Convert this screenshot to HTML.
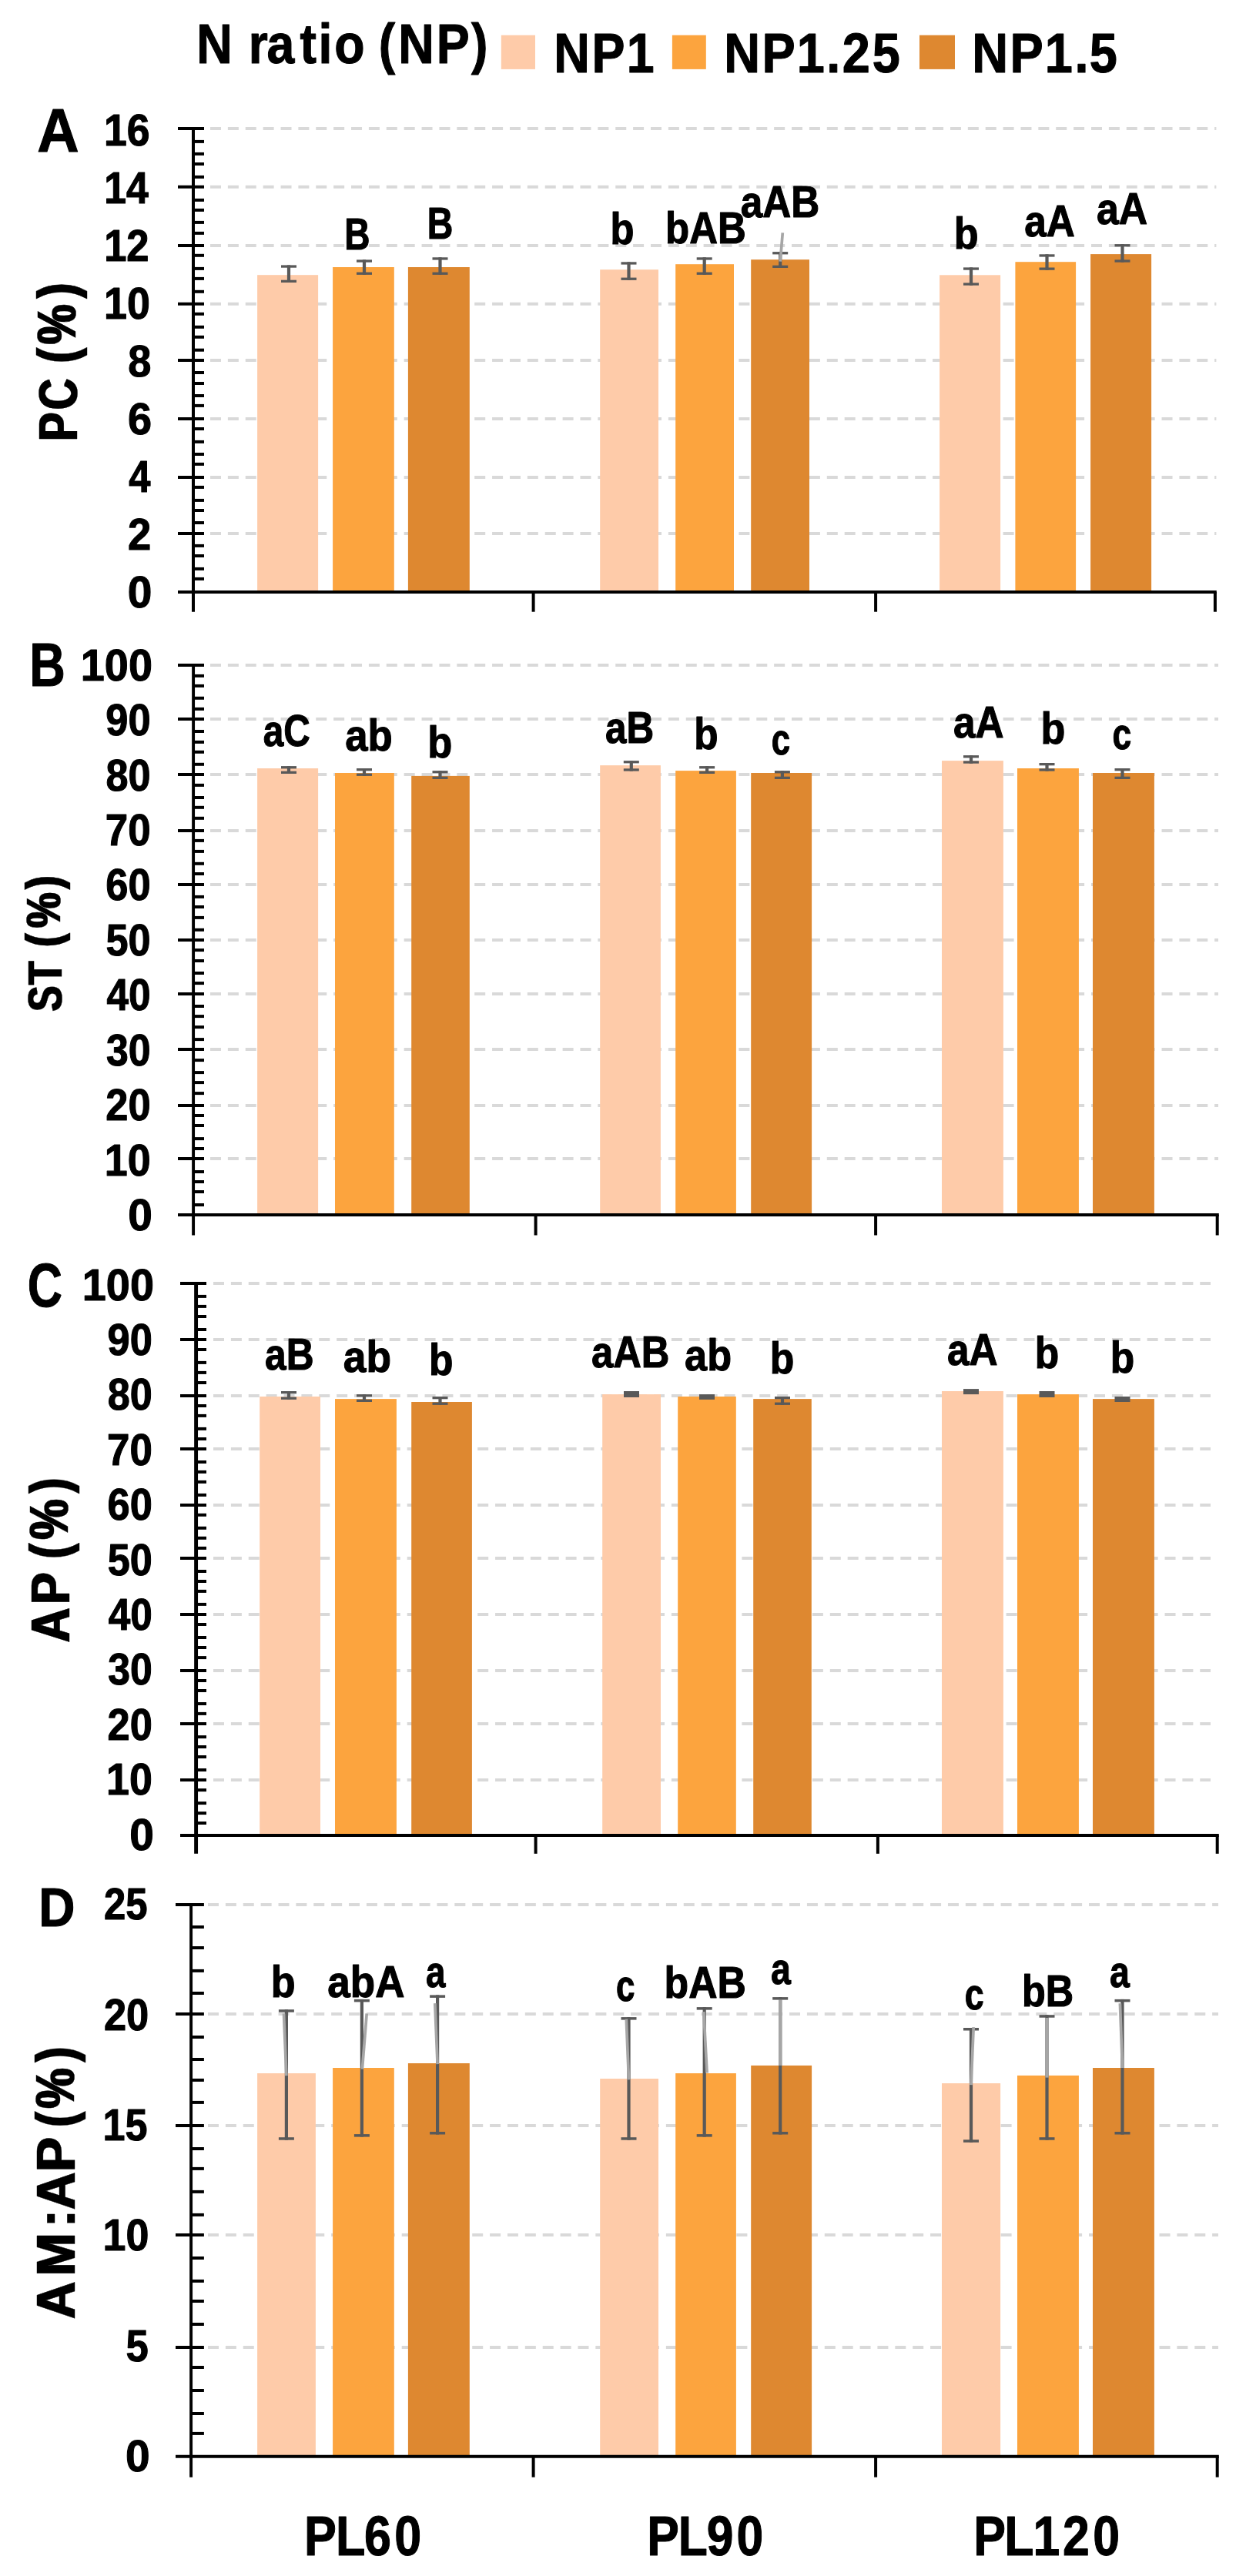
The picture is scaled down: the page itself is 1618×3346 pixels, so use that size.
<!DOCTYPE html>
<html lang="en">
<head>
<meta charset="utf-8">
<title>Figure: PC, ST, AP and AM:AP by N ratio (NP) and planting level</title>
<style>
html,body{margin:0;padding:0;background:#fff;}
body{width:1618px;height:3346px;overflow:hidden;}
svg{display:block;}
#ytitles text{stroke-width:0.4px;}
svg text{font-family:'Liberation Sans', Arial, Helvetica, sans-serif;font-weight:700;fill:#000;stroke:#000;stroke-width:1.1px;stroke-linejoin:round;}
</style>
</head>
<body>
<svg width="1618" height="3346" viewBox="0 0 1618 3346">
<rect x="0" y="0" width="1618" height="3346" fill="#ffffff"/>
<g id="shapes">
<rect x="650.80" y="45.70" width="44.20" height="44.20" fill="#FECBA9"/>
<rect x="872.90" y="45.70" width="43.90" height="44.20" fill="#FCA43E"/>
<rect x="1194.00" y="45.70" width="46.00" height="44.20" fill="#DE8830"/>
<line x1="273.00" y1="166.90" x2="1579.40" y2="166.90" stroke="#D9D9D9" stroke-width="4" stroke-dasharray="14 8.88"/>
<line x1="273.00" y1="242.80" x2="1579.40" y2="242.80" stroke="#D9D9D9" stroke-width="4" stroke-dasharray="14 8.88"/>
<line x1="273.00" y1="318.90" x2="1579.40" y2="318.90" stroke="#D9D9D9" stroke-width="4" stroke-dasharray="14 8.88"/>
<line x1="273.00" y1="394.80" x2="1579.40" y2="394.80" stroke="#D9D9D9" stroke-width="4" stroke-dasharray="14 8.88"/>
<line x1="273.00" y1="467.90" x2="1579.40" y2="467.90" stroke="#D9D9D9" stroke-width="4" stroke-dasharray="14 8.88"/>
<line x1="273.00" y1="543.90" x2="1579.40" y2="543.90" stroke="#D9D9D9" stroke-width="4" stroke-dasharray="14 8.88"/>
<line x1="273.00" y1="620.00" x2="1579.40" y2="620.00" stroke="#D9D9D9" stroke-width="4" stroke-dasharray="14 8.88"/>
<line x1="273.00" y1="692.90" x2="1579.40" y2="692.90" stroke="#D9D9D9" stroke-width="4" stroke-dasharray="14 8.88"/>
<rect x="334.10" y="357.20" width="79.00" height="411.70" fill="#FECBA9"/>
<rect x="432.10" y="347.00" width="79.70" height="421.90" fill="#FCA43E"/>
<rect x="529.90" y="347.00" width="79.90" height="421.90" fill="#DE8830"/>
<rect x="779.20" y="350.20" width="75.80" height="418.70" fill="#FECBA9"/>
<rect x="877.20" y="343.20" width="75.80" height="425.70" fill="#FCA43E"/>
<rect x="975.20" y="337.20" width="75.80" height="431.70" fill="#DE8830"/>
<rect x="1220.10" y="357.30" width="79.00" height="411.60" fill="#FECBA9"/>
<rect x="1318.40" y="340.20" width="78.70" height="428.70" fill="#FCA43E"/>
<rect x="1416.10" y="330.10" width="79.00" height="438.80" fill="#DE8830"/>
<rect x="372.90" y="344.40" width="4.20" height="22.60" fill="#595959"/>
<rect x="365.00" y="344.40" width="20.00" height="3.30" fill="#595959"/>
<rect x="365.00" y="363.70" width="20.00" height="3.30" fill="#595959"/>
<rect x="470.90" y="337.40" width="4.20" height="19.50" fill="#595959"/>
<rect x="463.00" y="337.40" width="20.00" height="3.30" fill="#595959"/>
<rect x="463.00" y="353.60" width="20.00" height="3.30" fill="#595959"/>
<rect x="569.40" y="334.30" width="4.20" height="22.60" fill="#595959"/>
<rect x="561.50" y="334.30" width="20.00" height="3.30" fill="#595959"/>
<rect x="561.50" y="353.60" width="20.00" height="3.30" fill="#595959"/>
<rect x="814.40" y="340.30" width="4.20" height="23.60" fill="#595959"/>
<rect x="806.50" y="340.30" width="20.00" height="3.30" fill="#595959"/>
<rect x="806.50" y="360.60" width="20.00" height="3.30" fill="#595959"/>
<rect x="912.60" y="334.30" width="4.20" height="22.60" fill="#595959"/>
<rect x="904.70" y="334.30" width="20.00" height="3.30" fill="#595959"/>
<rect x="904.70" y="353.60" width="20.00" height="3.30" fill="#595959"/>
<rect x="1011.10" y="327.10" width="4.20" height="20.90" fill="#595959"/>
<rect x="1003.20" y="327.10" width="20.00" height="3.30" fill="#595959"/>
<rect x="1003.20" y="344.70" width="20.00" height="3.30" fill="#595959"/>
<rect x="1258.90" y="347.40" width="4.20" height="23.30" fill="#595959"/>
<rect x="1251.00" y="347.40" width="20.00" height="3.30" fill="#595959"/>
<rect x="1251.00" y="367.40" width="20.00" height="3.30" fill="#595959"/>
<rect x="1357.40" y="330.30" width="4.20" height="20.50" fill="#595959"/>
<rect x="1349.50" y="330.30" width="20.00" height="3.30" fill="#595959"/>
<rect x="1349.50" y="347.50" width="20.00" height="3.30" fill="#595959"/>
<rect x="1455.40" y="317.10" width="4.20" height="23.60" fill="#595959"/>
<rect x="1447.50" y="317.10" width="20.00" height="3.30" fill="#595959"/>
<rect x="1447.50" y="337.40" width="20.00" height="3.30" fill="#595959"/>
<line x1="251.00" y1="164.90" x2="251.00" y2="794.70" stroke="#000" stroke-width="4.0" />
<line x1="231.00" y1="768.90" x2="1579.80" y2="768.90" stroke="#000" stroke-width="4" />
<line x1="231.00" y1="166.90" x2="265.00" y2="166.90" stroke="#000" stroke-width="4" />
<line x1="231.00" y1="242.80" x2="265.00" y2="242.80" stroke="#000" stroke-width="4" />
<line x1="231.00" y1="318.90" x2="265.00" y2="318.90" stroke="#000" stroke-width="4" />
<line x1="231.00" y1="394.80" x2="265.00" y2="394.80" stroke="#000" stroke-width="4" />
<line x1="231.00" y1="467.90" x2="265.00" y2="467.90" stroke="#000" stroke-width="4" />
<line x1="231.00" y1="543.90" x2="265.00" y2="543.90" stroke="#000" stroke-width="4" />
<line x1="231.00" y1="620.00" x2="265.00" y2="620.00" stroke="#000" stroke-width="4" />
<line x1="231.00" y1="692.90" x2="265.00" y2="692.90" stroke="#000" stroke-width="4" />
<line x1="251.00" y1="183.90" x2="265.00" y2="183.90" stroke="#000" stroke-width="4" />
<line x1="251.00" y1="199.90" x2="265.00" y2="199.90" stroke="#000" stroke-width="4" />
<line x1="251.00" y1="213.00" x2="265.00" y2="213.00" stroke="#000" stroke-width="4" />
<line x1="251.00" y1="229.90" x2="265.00" y2="229.90" stroke="#000" stroke-width="4" />
<line x1="251.00" y1="259.90" x2="265.00" y2="259.90" stroke="#000" stroke-width="4" />
<line x1="251.00" y1="272.90" x2="265.00" y2="272.90" stroke="#000" stroke-width="4" />
<line x1="251.00" y1="288.90" x2="265.00" y2="288.90" stroke="#000" stroke-width="4" />
<line x1="251.00" y1="302.90" x2="265.00" y2="302.90" stroke="#000" stroke-width="4" />
<line x1="251.00" y1="331.80" x2="265.00" y2="331.80" stroke="#000" stroke-width="4" />
<line x1="251.00" y1="348.90" x2="265.00" y2="348.90" stroke="#000" stroke-width="4" />
<line x1="251.00" y1="361.90" x2="265.00" y2="361.90" stroke="#000" stroke-width="4" />
<line x1="251.00" y1="378.80" x2="265.00" y2="378.80" stroke="#000" stroke-width="4" />
<line x1="251.00" y1="407.80" x2="265.00" y2="407.80" stroke="#000" stroke-width="4" />
<line x1="251.00" y1="424.80" x2="265.00" y2="424.80" stroke="#000" stroke-width="4" />
<line x1="251.00" y1="437.80" x2="265.00" y2="437.80" stroke="#000" stroke-width="4" />
<line x1="251.00" y1="454.70" x2="265.00" y2="454.70" stroke="#000" stroke-width="4" />
<line x1="251.00" y1="484.00" x2="265.00" y2="484.00" stroke="#000" stroke-width="4" />
<line x1="251.00" y1="498.00" x2="265.00" y2="498.00" stroke="#000" stroke-width="4" />
<line x1="251.00" y1="514.00" x2="265.00" y2="514.00" stroke="#000" stroke-width="4" />
<line x1="251.00" y1="526.90" x2="265.00" y2="526.90" stroke="#000" stroke-width="4" />
<line x1="251.00" y1="557.00" x2="265.00" y2="557.00" stroke="#000" stroke-width="4" />
<line x1="251.00" y1="573.90" x2="265.00" y2="573.90" stroke="#000" stroke-width="4" />
<line x1="251.00" y1="590.00" x2="265.00" y2="590.00" stroke="#000" stroke-width="4" />
<line x1="251.00" y1="602.90" x2="265.00" y2="602.90" stroke="#000" stroke-width="4" />
<line x1="251.00" y1="632.90" x2="265.00" y2="632.90" stroke="#000" stroke-width="4" />
<line x1="251.00" y1="649.90" x2="265.00" y2="649.90" stroke="#000" stroke-width="4" />
<line x1="251.00" y1="663.00" x2="265.00" y2="663.00" stroke="#000" stroke-width="4" />
<line x1="251.00" y1="679.00" x2="265.00" y2="679.00" stroke="#000" stroke-width="4" />
<line x1="251.00" y1="708.90" x2="265.00" y2="708.90" stroke="#000" stroke-width="4" />
<line x1="251.00" y1="722.00" x2="265.00" y2="722.00" stroke="#000" stroke-width="4" />
<line x1="251.00" y1="738.90" x2="265.00" y2="738.90" stroke="#000" stroke-width="4" />
<line x1="251.00" y1="751.90" x2="265.00" y2="751.90" stroke="#000" stroke-width="4" />
<line x1="692.60" y1="768.90" x2="692.60" y2="794.70" stroke="#000" stroke-width="4" />
<line x1="1137.10" y1="768.90" x2="1137.10" y2="794.70" stroke="#000" stroke-width="4" />
<line x1="1577.90" y1="768.90" x2="1577.90" y2="794.70" stroke="#000" stroke-width="4" />
<line x1="1016.30" y1="302.30" x2="1013.20" y2="339.60" stroke="#A6A6A6" stroke-width="3.7" />
<line x1="273.00" y1="864.00" x2="1582.00" y2="864.00" stroke="#D9D9D9" stroke-width="4" stroke-dasharray="14 8.88"/>
<line x1="273.00" y1="934.10" x2="1582.00" y2="934.10" stroke="#D9D9D9" stroke-width="4" stroke-dasharray="14 8.88"/>
<line x1="273.00" y1="1005.90" x2="1582.00" y2="1005.90" stroke="#D9D9D9" stroke-width="4" stroke-dasharray="14 8.88"/>
<line x1="273.00" y1="1078.90" x2="1582.00" y2="1078.90" stroke="#D9D9D9" stroke-width="4" stroke-dasharray="14 8.88"/>
<line x1="273.00" y1="1149.00" x2="1582.00" y2="1149.00" stroke="#D9D9D9" stroke-width="4" stroke-dasharray="14 8.88"/>
<line x1="273.00" y1="1221.00" x2="1582.00" y2="1221.00" stroke="#D9D9D9" stroke-width="4" stroke-dasharray="14 8.88"/>
<line x1="273.00" y1="1291.10" x2="1582.00" y2="1291.10" stroke="#D9D9D9" stroke-width="4" stroke-dasharray="14 8.88"/>
<line x1="273.00" y1="1363.00" x2="1582.00" y2="1363.00" stroke="#D9D9D9" stroke-width="4" stroke-dasharray="14 8.88"/>
<line x1="273.00" y1="1435.90" x2="1582.00" y2="1435.90" stroke="#D9D9D9" stroke-width="4" stroke-dasharray="14 8.88"/>
<line x1="273.00" y1="1504.90" x2="1582.00" y2="1504.90" stroke="#D9D9D9" stroke-width="4" stroke-dasharray="14 8.88"/>
<rect x="334.10" y="998.00" width="79.00" height="579.90" fill="#FECBA9"/>
<rect x="435.00" y="1004.00" width="76.80" height="573.90" fill="#FCA43E"/>
<rect x="534.20" y="1007.90" width="75.60" height="570.00" fill="#DE8830"/>
<rect x="779.20" y="994.10" width="78.70" height="583.80" fill="#FECBA9"/>
<rect x="877.20" y="1001.10" width="78.70" height="576.80" fill="#FCA43E"/>
<rect x="975.20" y="1004.00" width="78.90" height="573.90" fill="#DE8830"/>
<rect x="1223.00" y="988.10" width="79.90" height="589.80" fill="#FECBA9"/>
<rect x="1321.00" y="998.00" width="79.90" height="579.90" fill="#FCA43E"/>
<rect x="1419.00" y="1004.00" width="79.90" height="573.90" fill="#DE8830"/>
<rect x="372.90" y="995.10" width="4.20" height="9.90" fill="#595959"/>
<rect x="365.00" y="995.10" width="20.00" height="3.30" fill="#595959"/>
<rect x="365.00" y="1001.70" width="20.00" height="3.30" fill="#595959"/>
<rect x="470.90" y="998.00" width="4.20" height="9.90" fill="#595959"/>
<rect x="463.00" y="998.00" width="20.00" height="3.30" fill="#595959"/>
<rect x="463.00" y="1004.60" width="20.00" height="3.30" fill="#595959"/>
<rect x="569.40" y="1001.10" width="4.20" height="10.90" fill="#595959"/>
<rect x="561.50" y="1001.10" width="20.00" height="3.30" fill="#595959"/>
<rect x="561.50" y="1008.70" width="20.00" height="3.30" fill="#595959"/>
<rect x="817.70" y="988.10" width="4.20" height="13.50" fill="#595959"/>
<rect x="809.80" y="988.10" width="20.00" height="3.30" fill="#595959"/>
<rect x="809.80" y="998.30" width="20.00" height="3.30" fill="#595959"/>
<rect x="916.00" y="995.10" width="4.20" height="9.90" fill="#595959"/>
<rect x="908.10" y="995.10" width="20.00" height="3.30" fill="#595959"/>
<rect x="908.10" y="1001.70" width="20.00" height="3.30" fill="#595959"/>
<rect x="1013.80" y="1001.10" width="4.20" height="10.90" fill="#595959"/>
<rect x="1005.90" y="1001.10" width="20.00" height="3.30" fill="#595959"/>
<rect x="1005.90" y="1008.70" width="20.00" height="3.30" fill="#595959"/>
<rect x="1258.90" y="981.10" width="4.20" height="10.60" fill="#595959"/>
<rect x="1251.00" y="981.10" width="20.00" height="3.30" fill="#595959"/>
<rect x="1251.00" y="988.40" width="20.00" height="3.30" fill="#595959"/>
<rect x="1357.40" y="991.00" width="4.20" height="10.60" fill="#595959"/>
<rect x="1349.50" y="991.00" width="20.00" height="3.30" fill="#595959"/>
<rect x="1349.50" y="998.30" width="20.00" height="3.30" fill="#595959"/>
<rect x="1455.40" y="998.00" width="4.20" height="14.00" fill="#595959"/>
<rect x="1447.50" y="998.00" width="20.00" height="3.30" fill="#595959"/>
<rect x="1447.50" y="1008.70" width="20.00" height="3.30" fill="#595959"/>
<line x1="251.10" y1="862.00" x2="251.10" y2="1604.50" stroke="#000" stroke-width="3.9" />
<line x1="231.00" y1="1577.90" x2="1582.80" y2="1577.90" stroke="#000" stroke-width="4" />
<line x1="231.00" y1="864.00" x2="265.00" y2="864.00" stroke="#000" stroke-width="4" />
<line x1="231.00" y1="934.10" x2="265.00" y2="934.10" stroke="#000" stroke-width="4" />
<line x1="231.00" y1="1005.90" x2="265.00" y2="1005.90" stroke="#000" stroke-width="4" />
<line x1="231.00" y1="1078.90" x2="265.00" y2="1078.90" stroke="#000" stroke-width="4" />
<line x1="231.00" y1="1149.00" x2="265.00" y2="1149.00" stroke="#000" stroke-width="4" />
<line x1="231.00" y1="1221.00" x2="265.00" y2="1221.00" stroke="#000" stroke-width="4" />
<line x1="231.00" y1="1291.10" x2="265.00" y2="1291.10" stroke="#000" stroke-width="4" />
<line x1="231.00" y1="1363.00" x2="265.00" y2="1363.00" stroke="#000" stroke-width="4" />
<line x1="231.00" y1="1435.90" x2="265.00" y2="1435.90" stroke="#000" stroke-width="4" />
<line x1="231.00" y1="1504.90" x2="265.00" y2="1504.90" stroke="#000" stroke-width="4" />
<line x1="251.10" y1="877.90" x2="265.00" y2="877.90" stroke="#000" stroke-width="4" />
<line x1="251.10" y1="890.90" x2="265.00" y2="890.90" stroke="#000" stroke-width="4" />
<line x1="251.10" y1="906.80" x2="265.00" y2="906.80" stroke="#000" stroke-width="4" />
<line x1="251.10" y1="920.90" x2="265.00" y2="920.90" stroke="#000" stroke-width="4" />
<line x1="251.10" y1="950.00" x2="265.00" y2="950.00" stroke="#000" stroke-width="4" />
<line x1="251.10" y1="963.90" x2="265.00" y2="963.90" stroke="#000" stroke-width="4" />
<line x1="251.10" y1="976.80" x2="265.00" y2="976.80" stroke="#000" stroke-width="4" />
<line x1="251.10" y1="992.80" x2="265.00" y2="992.80" stroke="#000" stroke-width="4" />
<line x1="251.10" y1="1019.90" x2="265.00" y2="1019.90" stroke="#000" stroke-width="4" />
<line x1="251.10" y1="1036.00" x2="265.00" y2="1036.00" stroke="#000" stroke-width="4" />
<line x1="251.10" y1="1048.80" x2="265.00" y2="1048.80" stroke="#000" stroke-width="4" />
<line x1="251.10" y1="1062.80" x2="265.00" y2="1062.80" stroke="#000" stroke-width="4" />
<line x1="251.10" y1="1091.90" x2="265.00" y2="1091.90" stroke="#000" stroke-width="4" />
<line x1="251.10" y1="1105.90" x2="265.00" y2="1105.90" stroke="#000" stroke-width="4" />
<line x1="251.10" y1="1121.80" x2="265.00" y2="1121.80" stroke="#000" stroke-width="4" />
<line x1="251.10" y1="1135.00" x2="265.00" y2="1135.00" stroke="#000" stroke-width="4" />
<line x1="251.10" y1="1164.90" x2="265.00" y2="1164.90" stroke="#000" stroke-width="4" />
<line x1="251.10" y1="1178.00" x2="265.00" y2="1178.00" stroke="#000" stroke-width="4" />
<line x1="251.10" y1="1191.90" x2="265.00" y2="1191.90" stroke="#000" stroke-width="4" />
<line x1="251.10" y1="1207.80" x2="265.00" y2="1207.80" stroke="#000" stroke-width="4" />
<line x1="251.10" y1="1234.10" x2="265.00" y2="1234.10" stroke="#000" stroke-width="4" />
<line x1="251.10" y1="1248.00" x2="265.00" y2="1248.00" stroke="#000" stroke-width="4" />
<line x1="251.10" y1="1264.00" x2="265.00" y2="1264.00" stroke="#000" stroke-width="4" />
<line x1="251.10" y1="1277.10" x2="265.00" y2="1277.10" stroke="#000" stroke-width="4" />
<line x1="251.10" y1="1307.00" x2="265.00" y2="1307.00" stroke="#000" stroke-width="4" />
<line x1="251.10" y1="1320.10" x2="265.00" y2="1320.10" stroke="#000" stroke-width="4" />
<line x1="251.10" y1="1334.10" x2="265.00" y2="1334.10" stroke="#000" stroke-width="4" />
<line x1="251.10" y1="1350.10" x2="265.00" y2="1350.10" stroke="#000" stroke-width="4" />
<line x1="251.10" y1="1377.10" x2="265.00" y2="1377.10" stroke="#000" stroke-width="4" />
<line x1="251.10" y1="1393.10" x2="265.00" y2="1393.10" stroke="#000" stroke-width="4" />
<line x1="251.10" y1="1406.10" x2="265.00" y2="1406.10" stroke="#000" stroke-width="4" />
<line x1="251.10" y1="1420.10" x2="265.00" y2="1420.10" stroke="#000" stroke-width="4" />
<line x1="251.10" y1="1449.00" x2="265.00" y2="1449.00" stroke="#000" stroke-width="4" />
<line x1="251.10" y1="1462.00" x2="265.00" y2="1462.00" stroke="#000" stroke-width="4" />
<line x1="251.10" y1="1479.10" x2="265.00" y2="1479.10" stroke="#000" stroke-width="4" />
<line x1="251.10" y1="1492.00" x2="265.00" y2="1492.00" stroke="#000" stroke-width="4" />
<line x1="251.10" y1="1522.00" x2="265.00" y2="1522.00" stroke="#000" stroke-width="4" />
<line x1="251.10" y1="1535.00" x2="265.00" y2="1535.00" stroke="#000" stroke-width="4" />
<line x1="251.10" y1="1548.00" x2="265.00" y2="1548.00" stroke="#000" stroke-width="4" />
<line x1="251.10" y1="1565.00" x2="265.00" y2="1565.00" stroke="#000" stroke-width="4" />
<line x1="695.60" y1="1577.90" x2="695.60" y2="1604.50" stroke="#000" stroke-width="4" />
<line x1="1137.10" y1="1577.90" x2="1137.10" y2="1604.50" stroke="#000" stroke-width="4" />
<line x1="1580.70" y1="1577.90" x2="1580.70" y2="1604.50" stroke="#000" stroke-width="4" />
<line x1="277.00" y1="1667.00" x2="1572.00" y2="1667.00" stroke="#D9D9D9" stroke-width="4" stroke-dasharray="14 8.88"/>
<line x1="277.00" y1="1740.00" x2="1572.00" y2="1740.00" stroke="#D9D9D9" stroke-width="4" stroke-dasharray="14 8.88"/>
<line x1="277.00" y1="1813.00" x2="1572.00" y2="1813.00" stroke="#D9D9D9" stroke-width="4" stroke-dasharray="14 8.88"/>
<line x1="277.00" y1="1882.00" x2="1572.00" y2="1882.00" stroke="#D9D9D9" stroke-width="4" stroke-dasharray="14 8.88"/>
<line x1="277.00" y1="1954.90" x2="1572.00" y2="1954.90" stroke="#D9D9D9" stroke-width="4" stroke-dasharray="14 8.88"/>
<line x1="277.00" y1="2024.00" x2="1572.00" y2="2024.00" stroke="#D9D9D9" stroke-width="4" stroke-dasharray="14 8.88"/>
<line x1="277.00" y1="2096.90" x2="1572.00" y2="2096.90" stroke="#D9D9D9" stroke-width="4" stroke-dasharray="14 8.88"/>
<line x1="277.00" y1="2170.10" x2="1572.00" y2="2170.10" stroke="#D9D9D9" stroke-width="4" stroke-dasharray="14 8.88"/>
<line x1="277.00" y1="2238.90" x2="1572.00" y2="2238.90" stroke="#D9D9D9" stroke-width="4" stroke-dasharray="14 8.88"/>
<line x1="277.00" y1="2311.90" x2="1572.00" y2="2311.90" stroke="#D9D9D9" stroke-width="4" stroke-dasharray="14 8.88"/>
<rect x="337.20" y="1814.00" width="78.80" height="569.90" fill="#FECBA9"/>
<rect x="435.00" y="1817.10" width="79.90" height="566.80" fill="#FCA43E"/>
<rect x="534.20" y="1821.00" width="78.70" height="562.90" fill="#DE8830"/>
<rect x="782.20" y="1811.10" width="75.80" height="572.80" fill="#FECBA9"/>
<rect x="880.20" y="1814.00" width="75.60" height="569.90" fill="#FCA43E"/>
<rect x="978.20" y="1817.10" width="75.60" height="566.80" fill="#DE8830"/>
<rect x="1223.00" y="1807.00" width="79.90" height="576.90" fill="#FECBA9"/>
<rect x="1321.00" y="1811.10" width="79.90" height="572.80" fill="#FCA43E"/>
<rect x="1419.00" y="1817.10" width="79.90" height="566.80" fill="#DE8830"/>
<rect x="372.90" y="1807.00" width="4.20" height="10.90" fill="#595959"/>
<rect x="365.00" y="1807.00" width="20.00" height="3.30" fill="#595959"/>
<rect x="365.00" y="1814.60" width="20.00" height="3.30" fill="#595959"/>
<rect x="470.90" y="1811.10" width="4.20" height="9.90" fill="#595959"/>
<rect x="463.00" y="1811.10" width="20.00" height="3.30" fill="#595959"/>
<rect x="463.00" y="1817.70" width="20.00" height="3.30" fill="#595959"/>
<rect x="569.40" y="1814.00" width="4.20" height="10.90" fill="#595959"/>
<rect x="561.50" y="1814.00" width="20.00" height="3.30" fill="#595959"/>
<rect x="561.50" y="1821.60" width="20.00" height="3.30" fill="#595959"/>
<rect x="810.00" y="1807.00" width="20.00" height="8.00" fill="#595959"/>
<rect x="908.00" y="1811.10" width="20.00" height="6.80" fill="#595959"/>
<rect x="1013.90" y="1814.00" width="4.20" height="10.90" fill="#595959"/>
<rect x="1006.00" y="1814.00" width="20.00" height="3.30" fill="#595959"/>
<rect x="1006.00" y="1821.60" width="20.00" height="3.30" fill="#595959"/>
<rect x="1251.00" y="1804.10" width="20.00" height="7.00" fill="#595959"/>
<rect x="1349.50" y="1807.00" width="20.00" height="8.00" fill="#595959"/>
<rect x="1447.50" y="1814.00" width="20.00" height="7.00" fill="#595959"/>
<line x1="254.60" y1="1665.00" x2="254.60" y2="2407.80" stroke="#000" stroke-width="4.9" />
<line x1="234.00" y1="2383.90" x2="1582.80" y2="2383.90" stroke="#000" stroke-width="4" />
<line x1="234.00" y1="1667.00" x2="268.00" y2="1667.00" stroke="#000" stroke-width="4" />
<line x1="234.00" y1="1740.00" x2="268.00" y2="1740.00" stroke="#000" stroke-width="4" />
<line x1="234.00" y1="1813.00" x2="268.00" y2="1813.00" stroke="#000" stroke-width="4" />
<line x1="234.00" y1="1882.00" x2="268.00" y2="1882.00" stroke="#000" stroke-width="4" />
<line x1="234.00" y1="1954.90" x2="268.00" y2="1954.90" stroke="#000" stroke-width="4" />
<line x1="234.00" y1="2024.00" x2="268.00" y2="2024.00" stroke="#000" stroke-width="4" />
<line x1="234.00" y1="2096.90" x2="268.00" y2="2096.90" stroke="#000" stroke-width="4" />
<line x1="234.00" y1="2170.10" x2="268.00" y2="2170.10" stroke="#000" stroke-width="4" />
<line x1="234.00" y1="2238.90" x2="268.00" y2="2238.90" stroke="#000" stroke-width="4" />
<line x1="234.00" y1="2311.90" x2="268.00" y2="2311.90" stroke="#000" stroke-width="4" />
<line x1="254.60" y1="1683.90" x2="268.00" y2="1683.90" stroke="#000" stroke-width="4" />
<line x1="254.60" y1="1696.90" x2="268.00" y2="1696.90" stroke="#000" stroke-width="4" />
<line x1="254.60" y1="1710.00" x2="268.00" y2="1710.00" stroke="#000" stroke-width="4" />
<line x1="254.60" y1="1727.00" x2="268.00" y2="1727.00" stroke="#000" stroke-width="4" />
<line x1="254.60" y1="1753.00" x2="268.00" y2="1753.00" stroke="#000" stroke-width="4" />
<line x1="254.60" y1="1769.90" x2="268.00" y2="1769.90" stroke="#000" stroke-width="4" />
<line x1="254.60" y1="1782.90" x2="268.00" y2="1782.90" stroke="#000" stroke-width="4" />
<line x1="254.60" y1="1796.00" x2="268.00" y2="1796.00" stroke="#000" stroke-width="4" />
<line x1="254.60" y1="1826.00" x2="268.00" y2="1826.00" stroke="#000" stroke-width="4" />
<line x1="254.60" y1="1838.90" x2="268.00" y2="1838.90" stroke="#000" stroke-width="4" />
<line x1="254.60" y1="1855.90" x2="268.00" y2="1855.90" stroke="#000" stroke-width="4" />
<line x1="254.60" y1="1869.00" x2="268.00" y2="1869.00" stroke="#000" stroke-width="4" />
<line x1="254.60" y1="1899.00" x2="268.00" y2="1899.00" stroke="#000" stroke-width="4" />
<line x1="254.60" y1="1911.90" x2="268.00" y2="1911.90" stroke="#000" stroke-width="4" />
<line x1="254.60" y1="1924.90" x2="268.00" y2="1924.90" stroke="#000" stroke-width="4" />
<line x1="254.60" y1="1941.90" x2="268.00" y2="1941.90" stroke="#000" stroke-width="4" />
<line x1="254.60" y1="1967.80" x2="268.00" y2="1967.80" stroke="#000" stroke-width="4" />
<line x1="254.60" y1="1984.80" x2="268.00" y2="1984.80" stroke="#000" stroke-width="4" />
<line x1="254.60" y1="1997.80" x2="268.00" y2="1997.80" stroke="#000" stroke-width="4" />
<line x1="254.60" y1="2010.90" x2="268.00" y2="2010.90" stroke="#000" stroke-width="4" />
<line x1="254.60" y1="2041.00" x2="268.00" y2="2041.00" stroke="#000" stroke-width="4" />
<line x1="254.60" y1="2054.00" x2="268.00" y2="2054.00" stroke="#000" stroke-width="4" />
<line x1="254.60" y1="2066.90" x2="268.00" y2="2066.90" stroke="#000" stroke-width="4" />
<line x1="254.60" y1="2083.90" x2="268.00" y2="2083.90" stroke="#000" stroke-width="4" />
<line x1="254.60" y1="2110.00" x2="268.00" y2="2110.00" stroke="#000" stroke-width="4" />
<line x1="254.60" y1="2127.00" x2="268.00" y2="2127.00" stroke="#000" stroke-width="4" />
<line x1="254.60" y1="2140.00" x2="268.00" y2="2140.00" stroke="#000" stroke-width="4" />
<line x1="254.60" y1="2153.10" x2="268.00" y2="2153.10" stroke="#000" stroke-width="4" />
<line x1="254.60" y1="2183.00" x2="268.00" y2="2183.00" stroke="#000" stroke-width="4" />
<line x1="254.60" y1="2196.00" x2="268.00" y2="2196.00" stroke="#000" stroke-width="4" />
<line x1="254.60" y1="2213.00" x2="268.00" y2="2213.00" stroke="#000" stroke-width="4" />
<line x1="254.60" y1="2225.90" x2="268.00" y2="2225.90" stroke="#000" stroke-width="4" />
<line x1="254.60" y1="2256.10" x2="268.00" y2="2256.10" stroke="#000" stroke-width="4" />
<line x1="254.60" y1="2269.00" x2="268.00" y2="2269.00" stroke="#000" stroke-width="4" />
<line x1="254.60" y1="2282.00" x2="268.00" y2="2282.00" stroke="#000" stroke-width="4" />
<line x1="254.60" y1="2299.00" x2="268.00" y2="2299.00" stroke="#000" stroke-width="4" />
<line x1="254.60" y1="2325.10" x2="268.00" y2="2325.10" stroke="#000" stroke-width="4" />
<line x1="254.60" y1="2342.10" x2="268.00" y2="2342.10" stroke="#000" stroke-width="4" />
<line x1="254.60" y1="2355.10" x2="268.00" y2="2355.10" stroke="#000" stroke-width="4" />
<line x1="254.60" y1="2368.00" x2="268.00" y2="2368.00" stroke="#000" stroke-width="4" />
<line x1="695.60" y1="2383.90" x2="695.60" y2="2407.80" stroke="#000" stroke-width="4" />
<line x1="1139.90" y1="2383.90" x2="1139.90" y2="2407.80" stroke="#000" stroke-width="4" />
<line x1="1580.70" y1="2383.90" x2="1580.70" y2="2407.80" stroke="#000" stroke-width="4" />
<line x1="270.00" y1="2473.90" x2="1582.00" y2="2473.90" stroke="#D9D9D9" stroke-width="4" stroke-dasharray="14 8.88"/>
<line x1="270.00" y1="2616.00" x2="1582.00" y2="2616.00" stroke="#D9D9D9" stroke-width="4" stroke-dasharray="14 8.88"/>
<line x1="270.00" y1="2760.90" x2="1582.00" y2="2760.90" stroke="#D9D9D9" stroke-width="4" stroke-dasharray="14 8.88"/>
<line x1="270.00" y1="2903.00" x2="1582.00" y2="2903.00" stroke="#D9D9D9" stroke-width="4" stroke-dasharray="14 8.88"/>
<line x1="270.00" y1="3049.10" x2="1582.00" y2="3049.10" stroke="#D9D9D9" stroke-width="4" stroke-dasharray="14 8.88"/>
<rect x="334.10" y="2693.00" width="75.80" height="497.70" fill="#FECBA9"/>
<rect x="432.10" y="2686.00" width="79.70" height="504.70" fill="#FCA43E"/>
<rect x="529.90" y="2680.00" width="79.90" height="510.70" fill="#DE8830"/>
<rect x="779.20" y="2700.00" width="75.80" height="490.70" fill="#FECBA9"/>
<rect x="877.20" y="2693.00" width="78.70" height="497.70" fill="#FCA43E"/>
<rect x="975.20" y="2682.90" width="78.90" height="507.80" fill="#DE8830"/>
<rect x="1223.00" y="2706.00" width="76.10" height="484.70" fill="#FECBA9"/>
<rect x="1321.00" y="2695.90" width="79.90" height="494.80" fill="#FCA43E"/>
<rect x="1419.00" y="2686.00" width="79.90" height="504.70" fill="#DE8830"/>
<rect x="369.80" y="2610.20" width="4.20" height="169.50" fill="#595959"/>
<rect x="361.90" y="2610.20" width="20.00" height="3.50" fill="#595959"/>
<rect x="361.90" y="2776.20" width="20.00" height="3.50" fill="#595959"/>
<rect x="467.80" y="2596.90" width="4.20" height="178.70" fill="#595959"/>
<rect x="459.90" y="2596.90" width="20.00" height="3.50" fill="#595959"/>
<rect x="459.90" y="2772.10" width="20.00" height="3.50" fill="#595959"/>
<rect x="566.00" y="2591.40" width="4.20" height="181.10" fill="#595959"/>
<rect x="558.10" y="2591.40" width="20.00" height="3.50" fill="#595959"/>
<rect x="558.10" y="2769.00" width="20.00" height="3.50" fill="#595959"/>
<rect x="814.40" y="2620.10" width="4.20" height="159.60" fill="#595959"/>
<rect x="806.50" y="2620.10" width="20.00" height="3.50" fill="#595959"/>
<rect x="806.50" y="2776.20" width="20.00" height="3.50" fill="#595959"/>
<rect x="912.60" y="2607.10" width="4.20" height="168.50" fill="#595959"/>
<rect x="904.70" y="2607.10" width="20.00" height="3.50" fill="#595959"/>
<rect x="904.70" y="2772.10" width="20.00" height="3.50" fill="#595959"/>
<rect x="1011.10" y="2594.10" width="4.20" height="178.40" fill="#595959"/>
<rect x="1003.20" y="2594.10" width="20.00" height="3.50" fill="#595959"/>
<rect x="1003.20" y="2769.00" width="20.00" height="3.50" fill="#595959"/>
<rect x="1258.90" y="2634.00" width="4.20" height="148.80" fill="#595959"/>
<rect x="1251.00" y="2634.00" width="20.00" height="3.50" fill="#595959"/>
<rect x="1251.00" y="2779.30" width="20.00" height="3.50" fill="#595959"/>
<rect x="1357.40" y="2617.20" width="4.20" height="162.50" fill="#595959"/>
<rect x="1349.50" y="2617.20" width="20.00" height="3.50" fill="#595959"/>
<rect x="1349.50" y="2776.20" width="20.00" height="3.50" fill="#595959"/>
<rect x="1455.40" y="2596.90" width="4.20" height="175.60" fill="#595959"/>
<rect x="1447.50" y="2596.90" width="20.00" height="3.50" fill="#595959"/>
<rect x="1447.50" y="2769.00" width="20.00" height="3.50" fill="#595959"/>
<line x1="248.10" y1="2471.90" x2="248.10" y2="3217.70" stroke="#000" stroke-width="3.9" />
<line x1="228.00" y1="3190.70" x2="1582.80" y2="3190.70" stroke="#000" stroke-width="4" />
<line x1="228.00" y1="2473.90" x2="264.90" y2="2473.90" stroke="#000" stroke-width="4" />
<line x1="228.00" y1="2616.00" x2="264.90" y2="2616.00" stroke="#000" stroke-width="4" />
<line x1="228.00" y1="2760.90" x2="264.90" y2="2760.90" stroke="#000" stroke-width="4" />
<line x1="228.00" y1="2903.00" x2="264.90" y2="2903.00" stroke="#000" stroke-width="4" />
<line x1="228.00" y1="3049.10" x2="264.90" y2="3049.10" stroke="#000" stroke-width="4" />
<line x1="248.10" y1="2503.00" x2="264.90" y2="2503.00" stroke="#000" stroke-width="4" />
<line x1="248.10" y1="2530.00" x2="264.90" y2="2530.00" stroke="#000" stroke-width="4" />
<line x1="248.10" y1="2559.90" x2="264.90" y2="2559.90" stroke="#000" stroke-width="4" />
<line x1="248.10" y1="2589.00" x2="264.90" y2="2589.00" stroke="#000" stroke-width="4" />
<line x1="248.10" y1="2646.00" x2="264.90" y2="2646.00" stroke="#000" stroke-width="4" />
<line x1="248.10" y1="2675.00" x2="264.90" y2="2675.00" stroke="#000" stroke-width="4" />
<line x1="248.10" y1="2701.90" x2="264.90" y2="2701.90" stroke="#000" stroke-width="4" />
<line x1="248.10" y1="2730.90" x2="264.90" y2="2730.90" stroke="#000" stroke-width="4" />
<line x1="248.10" y1="2791.00" x2="264.90" y2="2791.00" stroke="#000" stroke-width="4" />
<line x1="248.10" y1="2816.90" x2="264.90" y2="2816.90" stroke="#000" stroke-width="4" />
<line x1="248.10" y1="2846.90" x2="264.90" y2="2846.90" stroke="#000" stroke-width="4" />
<line x1="248.10" y1="2876.90" x2="264.90" y2="2876.90" stroke="#000" stroke-width="4" />
<line x1="248.10" y1="2933.00" x2="264.90" y2="2933.00" stroke="#000" stroke-width="4" />
<line x1="248.10" y1="2962.90" x2="264.90" y2="2962.90" stroke="#000" stroke-width="4" />
<line x1="248.10" y1="2989.00" x2="264.90" y2="2989.00" stroke="#000" stroke-width="4" />
<line x1="248.10" y1="3019.00" x2="264.90" y2="3019.00" stroke="#000" stroke-width="4" />
<line x1="248.10" y1="3075.00" x2="264.90" y2="3075.00" stroke="#000" stroke-width="4" />
<line x1="248.10" y1="3105.00" x2="264.90" y2="3105.00" stroke="#000" stroke-width="4" />
<line x1="248.10" y1="3135.00" x2="264.90" y2="3135.00" stroke="#000" stroke-width="4" />
<line x1="248.10" y1="3160.90" x2="264.90" y2="3160.90" stroke="#000" stroke-width="4" />
<line x1="692.60" y1="3190.70" x2="692.60" y2="3217.70" stroke="#000" stroke-width="4" />
<line x1="1137.10" y1="3190.70" x2="1137.10" y2="3217.70" stroke="#000" stroke-width="4" />
<line x1="1580.70" y1="3190.70" x2="1580.70" y2="3217.70" stroke="#000" stroke-width="4" />
<line x1="368.50" y1="2615.50" x2="371.90" y2="2696.10" stroke="#A6A6A6" stroke-width="3.7" />
<line x1="476.20" y1="2615.50" x2="470.40" y2="2687.70" stroke="#A6A6A6" stroke-width="3.7" />
<line x1="564.80" y1="2602.20" x2="568.10" y2="2681.20" stroke="#A6A6A6" stroke-width="3.7" />
<line x1="813.30" y1="2622.70" x2="816.50" y2="2701.40" stroke="#A6A6A6" stroke-width="3.7" />
<line x1="913.80" y1="2613.10" x2="918.10" y2="2692.50" stroke="#A6A6A6" stroke-width="3.7" />
<line x1="1013.20" y1="2597.40" x2="1013.20" y2="2682.90" stroke="#A6A6A6" stroke-width="4.3" />
<line x1="1264.20" y1="2633.10" x2="1261.00" y2="2708.20" stroke="#A6A6A6" stroke-width="3.7" />
<line x1="1359.50" y1="2621.00" x2="1359.50" y2="2698.60" stroke="#A6A6A6" stroke-width="4.3" />
<line x1="1454.40" y1="2602.20" x2="1457.50" y2="2686.00" stroke="#A6A6A6" stroke-width="3.7" />
</g>
<defs>
<filter id="embY" x="-5%" y="-5%" width="110%" height="110%" color-interpolation-filters="sRGB"><feMorphology operator="dilate" radius="0 1"/></filter>
</defs>
<g id="labels">
<text transform="translate(447.25,324.10) scale(0.8141,1)" font-size="56.5">B</text>
<text transform="translate(554.83,310.20) scale(0.8225,1)" font-size="56.5">B</text>
<text transform="translate(792.38,317.10) scale(0.8983,1)" font-size="56.5">b</text>
<text transform="translate(864.07,315.90) scale(0.9029,1)" font-size="56.5">bAB</text>
<text transform="translate(961.69,282.00) scale(0.9064,1)" font-size="56.5">aAB</text>
<text transform="translate(1238.80,323.30) scale(0.9220,1)" font-size="56.5">b</text>
<text transform="translate(1330.19,307.10) scale(0.9082,1)" font-size="56.5">aA</text>
<text transform="translate(1424.08,291.30) scale(0.9153,1)" font-size="56.5">aA</text>
<text transform="translate(135.08,189.05) scale(0.9396,1)" font-size="57">16</text>
<text transform="translate(135.17,264.05) scale(0.9086,1)" font-size="57">14</text>
<text transform="translate(135.13,339.05) scale(0.9226,1)" font-size="57">12</text>
<text transform="translate(135.07,414.05) scale(0.9436,1)" font-size="57">10</text>
<text transform="translate(166.21,489.05) scale(0.9504,1)" font-size="57">8</text>
<text transform="translate(165.93,564.05) scale(0.9809,1)" font-size="57">6</text>
<text transform="translate(167.18,639.05) scale(0.8882,1)" font-size="57">4</text>
<text transform="translate(165.97,714.05) scale(0.9544,1)" font-size="57">2</text>
<text transform="translate(165.65,789.05) scale(0.9982,1)" font-size="57">0</text>
<text transform="translate(48.18,196.50) scale(0.9450,1)" font-size="79.7">A</text>
<text transform="translate(341.66,969.30) scale(0.8441,1)" font-size="56.5">aC</text>
<text transform="translate(448.27,974.80) scale(0.9328,1)" font-size="56.5">ab</text>
<text transform="translate(555.28,983.80) scale(0.9288,1)" font-size="56.5">b</text>
<text transform="translate(786.02,965.20) scale(0.8751,1)" font-size="56.5">aB</text>
<text transform="translate(901.15,973.20) scale(0.9085,1)" font-size="56.5">b</text>
<text transform="translate(1001.74,980.10) scale(0.7754,1)" font-size="56.5">c</text>
<text transform="translate(1237.99,958.00) scale(0.9082,1)" font-size="56.5">aA</text>
<text transform="translate(1351.50,966.40) scale(0.9220,1)" font-size="56.5">b</text>
<text transform="translate(1444.62,973.20) scale(0.7860,1)" font-size="56.5">c</text>
<text transform="translate(104.86,883.65) scale(0.9784,1)" font-size="57">100</text>
<text transform="translate(137.32,955.10) scale(0.9200,1)" font-size="57">90</text>
<text transform="translate(137.55,1026.55) scale(0.9162,1)" font-size="57">80</text>
<text transform="translate(136.84,1098.00) scale(0.9277,1)" font-size="57">70</text>
<text transform="translate(137.32,1169.45) scale(0.9200,1)" font-size="57">60</text>
<text transform="translate(137.55,1240.90) scale(0.9162,1)" font-size="57">50</text>
<text transform="translate(138.47,1312.35) scale(0.9012,1)" font-size="57">40</text>
<text transform="translate(138.02,1383.80) scale(0.9086,1)" font-size="57">30</text>
<text transform="translate(137.32,1455.25) scale(0.9200,1)" font-size="57">20</text>
<text transform="translate(135.87,1526.70) scale(0.9436,1)" font-size="57">10</text>
<text transform="translate(166.15,1598.15) scale(0.9982,1)" font-size="57">0</text>
<text transform="translate(38.16,891.40) scale(0.8080,1)" font-size="79.9">B</text>
<text transform="translate(344.02,1778.80) scale(0.8794,1)" font-size="56.5">aB</text>
<text transform="translate(445.86,1782.00) scale(0.9439,1)" font-size="56.5">ab</text>
<text transform="translate(557.04,1785.60) scale(0.9119,1)" font-size="56.5">b</text>
<text transform="translate(768.00,1775.90) scale(0.8973,1)" font-size="56.5">aAB</text>
<text transform="translate(889.08,1780.00) scale(0.9249,1)" font-size="56.5">ab</text>
<text transform="translate(999.73,1784.10) scale(0.9153,1)" font-size="56.5">b</text>
<text transform="translate(1229.99,1772.80) scale(0.9096,1)" font-size="56.5">aA</text>
<text transform="translate(1343.84,1777.10) scale(0.9119,1)" font-size="56.5">b</text>
<text transform="translate(1441.84,1783.20) scale(0.9119,1)" font-size="56.5">b</text>
<text transform="translate(106.86,1688.65) scale(0.9784,1)" font-size="57">100</text>
<text transform="translate(139.52,1760.05) scale(0.9200,1)" font-size="57">90</text>
<text transform="translate(139.75,1831.45) scale(0.9162,1)" font-size="57">80</text>
<text transform="translate(139.04,1902.85) scale(0.9277,1)" font-size="57">70</text>
<text transform="translate(139.52,1974.25) scale(0.9200,1)" font-size="57">60</text>
<text transform="translate(139.75,2045.65) scale(0.9162,1)" font-size="57">50</text>
<text transform="translate(140.67,2117.05) scale(0.9012,1)" font-size="57">40</text>
<text transform="translate(140.22,2188.45) scale(0.9086,1)" font-size="57">30</text>
<text transform="translate(139.52,2259.85) scale(0.9200,1)" font-size="57">20</text>
<text transform="translate(138.07,2331.25) scale(0.9436,1)" font-size="57">10</text>
<text transform="translate(168.15,2402.65) scale(0.9982,1)" font-size="57">0</text>
<text transform="translate(35.85,1696.75) scale(0.7813,1)" font-size="80">C</text>
<text transform="translate(351.80,2593.50) scale(0.9220,1)" font-size="56.5">b</text>
<text transform="translate(425.36,2594.00) scale(0.9384,1)" font-size="56.5">abA</text>
<text transform="translate(553.09,2580.80) scale(0.8096,1)" font-size="56.5">a</text>
<text transform="translate(799.94,2599.30) scale(0.7789,1)" font-size="56.5">c</text>
<text transform="translate(862.62,2594.70) scale(0.9156,1)" font-size="56.5">bAB</text>
<text transform="translate(1001.08,2577.20) scale(0.8224,1)" font-size="56.5">a</text>
<text transform="translate(1252.71,2610.10) scale(0.7930,1)" font-size="56.5">c</text>
<text transform="translate(1327.00,2605.60) scale(0.8914,1)" font-size="56.5">bB</text>
<text transform="translate(1441.08,2580.80) scale(0.8224,1)" font-size="56.5">a</text>
<text transform="translate(134.96,2493.35) scale(0.8922,1)" font-size="57">25</text>
<text transform="translate(134.92,2636.65) scale(0.9200,1)" font-size="57">20</text>
<text transform="translate(133.56,2779.95) scale(0.9148,1)" font-size="57">15</text>
<text transform="translate(133.47,2923.25) scale(0.9436,1)" font-size="57">10</text>
<text transform="translate(163.55,3066.55) scale(0.9220,1)" font-size="57">5</text>
<text transform="translate(162.95,3209.85) scale(0.9982,1)" font-size="57">0</text>
<text transform="translate(50.15,2502.20) scale(0.9295,1)" font-size="70.3">D</text>
<text transform="translate(257.70,81.65) scale(0.9007,1)" x="-2.66 44.59 72.29 98.61 146.38 172.92 196.06 237.56 259.99 288.16 343.14 393.27" font-size="71.5">N ratio (NP)</text>
<text transform="translate(721.70,93.80) scale(0.9018,1)" x="-2.74 51.96 102.08" font-size="71.5">NP1</text>
<text transform="translate(942.80,93.80) scale(0.9064,1)" x="-2.80 51.57 101.45 143.87 166.54 209.54" font-size="71.5">NP1.25</text>
<text transform="translate(1264.90,93.80) scale(0.9076,1)" x="-2.83 51.41 101.23 143.89 165.16" font-size="71.5">NP1.5</text>
<text transform="translate(399.60,3318.90) scale(0.8781,1)" x="-5.24 41.56 83.47 128.39" font-size="71.5">PL60</text>
<text transform="translate(844.60,3318.90) scale(0.8726,1)" x="-5.06 41.40 83.78 128.30" font-size="71.5">PL90</text>
<text transform="translate(1268.80,3318.90) scale(0.8749,1)" x="-5.28 40.54 83.01 127.19 172.10" font-size="71.5">PL120</text>
</g>
<g id="ytitles" filter="url(#embY)">
<text transform="translate(99.60,571.00) rotate(-90) scale(0.7966,1)" x="-2.34 49.06" font-size="69.6">PC</text>
<text transform="translate(98.40,468.90) rotate(-90) scale(0.8375,1)" x="-3.16 25.72 97.53" font-size="69.6">(%)</text>
<text transform="translate(79.50,1311.80) rotate(-90) scale(0.7874,1)" x="-2.21 42.02" font-size="62.3">ST</text>
<text transform="translate(78.40,1226.70) rotate(-90) scale(0.8220,1)" x="-3.60 26.33 87.48" font-size="62.3">(%)</text>
<text transform="translate(89.60,2134.00) rotate(-90) scale(0.8860,1)" x="0.89 56.42" font-size="70">AP</text>
<text transform="translate(88.40,2021.80) rotate(-90) scale(0.8363,1)" x="-3.27 26.57 98.69" font-size="70">(%)</text>
<text transform="translate(97.30,3010.60) rotate(-90) scale(0.9554,1)" x="-1.47 56.91 123.35 147.11 198.71" font-size="70">AM:AP</text>
<text transform="translate(96.10,2759.90) rotate(-90) scale(0.8367,1)" x="-3.34 25.65 97.50" font-size="70">(%)</text>
</g>
</svg>
</body>
</html>
